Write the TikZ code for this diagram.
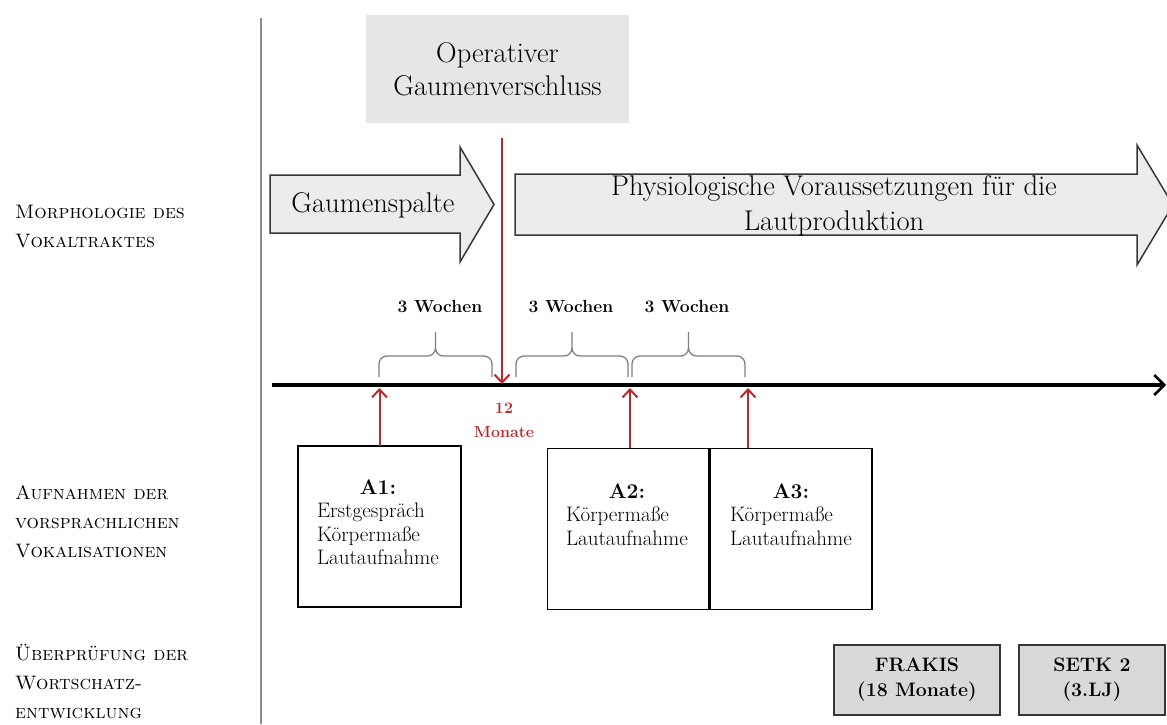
\documentclass[tikz,border=0pt]{standalone}
\usepackage{fontspec}
\usetikzlibrary{arrows.meta}
\definecolor{myred}{RGB}{192,39,45}
\definecolor{opgray}{RGB}{230,230,230}
\definecolor{arrfill}{RGB}{236,236,236}
\definecolor{arrline}{RGB}{55,55,55}
\definecolor{boxgray}{RGB}{217,217,217}
\definecolor{bracegray}{RGB}{128,128,128}
\definecolor{sepgray}{RGB}{140,140,140}
\newcommand\mybrace[3]{%
  \draw[bracestyle] (#1,377) -- (#1,364) to[out=90,in=180] (#1+8,356)
    -- (#2-8,356) to[out=0,in=-90] (#2,348) -- (#2,332)
    -- (#2,348) to[out=-90,in=180] (#2+8,356)
    -- (#3-8,356) to[out=0,in=90] (#3,364) -- (#3,377);}
\begin{document}
\begin{tikzpicture}[x=1pt,y=-1pt,
  lbl/.style={anchor=west, align=left, inner sep=0pt, font=\fontsize{19.5}{29}\selectfont\scshape},
  opbox/.style={fill=opgray, minimum width=263pt, minimum height=108pt, align=center, inner sep=0pt, font=\fontsize{28.5}{33}\selectfont},
  arrowshape/.style={fill=arrfill, draw=arrline, line width=1.5pt, line join=miter},
  bigtext/.style={align=center, inner sep=0pt, font=\fontsize{28.5}{35}\selectfont},
  week/.style={inner sep=0pt, font=\fontsize{17.5}{20}\selectfont\bfseries},
  redtext/.style={text=myred, align=center, inner sep=0pt, font=\fontsize{16}{24}\selectfont\bfseries},
  abox/.style={draw=black, line width=1.5pt, minimum width=163pt, minimum height=161pt, inner sep=0pt},
  atext/.style={inner sep=0pt, font=\fontsize{21}{23.5}\selectfont},
  tbox/.style={draw=arrline, fill=boxgray, line width=2pt, minimum height=70pt, align=center, inner sep=0pt, font=\fontsize{19.5}{25}\selectfont\bfseries},
  redarrow/.style={draw=myred, line width=2pt, -{Straight Barb[length=8pt,width=15pt,line width=2pt]}},
  axisline/.style={draw=black, line width=4pt, -{Straight Barb[length=10pt,width=20pt,line width=2.5pt]}},
  bracestyle/.style={draw=bracegray, line width=1.3pt},
]
\useasboundingbox (0,0) rectangle (1167,724);

% separator line
\coordinate (s0) at (261,18);
\coordinate (s1) at (261,724);
\draw[sepgray, line width=1.5pt] (s0) -- (s1);

% left labels
\node[lbl] (lab1) at (15,226.5) {Morphologie des\\Vokaltraktes};
\node[lbl] (lab2) at (15,521.5) {Aufnahmen der\\vorsprachlichen\\Vokalisationen};
\node[lbl] (lab3) at (15,681.5) {Überprüfung der\\Wortschatz-\\entwicklung};

% operative box
\node[opbox] (op) at (497.5,69) {Operativer\\Gaumenverschluss};

% big arrows
\draw[arrowshape] (270,175) -- (460,175) -- (460,147) -- (494,204.5) -- (460,262) -- (460,233) -- (270,233) -- cycle;
\node[bigtext] (gs) at (373,205) {Gaumenspalte};
\draw[arrowshape] (515,174) -- (1137,174) -- (1137,145) -- (1173,205) -- (1137,265) -- (1137,235) -- (515,235) -- cycle;
\node[bigtext] (ph) at (834,206) {Physiologische Voraussetzungen für die\\Lautproduktion};

% axis
\coordinate (ax0) at (272,385);
\coordinate (ax1) at (1166,385);
\draw[axisline] (ax0) -- (ax1);

% braces and labels
\mybrace{379}{435.5}{492}
\mybrace{516}{572}{628}
\mybrace{632}{688.5}{745}
\node[week] (w1) at (440,307) {3 Wochen};
\node[week] (w2) at (571,307) {3 Wochen};
\node[week] (w3) at (687,307) {3 Wochen};

% red operation line
\coordinate (r0) at (502,138);
\coordinate (r1) at (502,384);
\draw[redarrow] (r0) -- (r1);
\node[redtext] (m12) at (504,420) {12\\Monate};

% recording boxes
\node[abox] (A1) at (379.5,526.5) {};
\node[abox] (A2) at (629,529) {};
\node[abox] (A3) at (790.5,529) {};
\node[atext] (t1) at (378,525) {\begin{tabular}{@{}l@{}}\multicolumn{1}{@{}c@{}}{\bfseries A1:}\\Erstgespräch\\Körpermaße\\Lautaufnahme\end{tabular}};
\node[atext] (t2) at (627,517) {\begin{tabular}{@{}l@{}}\multicolumn{1}{@{}c@{}}{\bfseries A2:}\\Körpermaße\\Lautaufnahme\end{tabular}};
\node[atext] (t3) at (791,517) {\begin{tabular}{@{}l@{}}\multicolumn{1}{@{}c@{}}{\bfseries A3:}\\Körpermaße\\Lautaufnahme\end{tabular}};

% red arrows up
\coordinate (a1f) at (379.5,446);
\coordinate (a1t) at (379.5,388);
\coordinate (a2f) at (630,448);
\coordinate (a2t) at (630,388);
\coordinate (a3f) at (748,448);
\coordinate (a3t) at (748,388);
\draw[redarrow] (a1f) -- (a1t);
\draw[redarrow] (a2f) -- (a2t);
\draw[redarrow] (a3f) -- (a3t);

% test boxes
\node[tbox, minimum width=166pt] (fr) at (917,680) {FRAKIS\\(18 Monate)};
\node[tbox, minimum width=146pt] (se) at (1092,680) {SETK 2\\(3.LJ)};
\end{tikzpicture}
\end{document}
